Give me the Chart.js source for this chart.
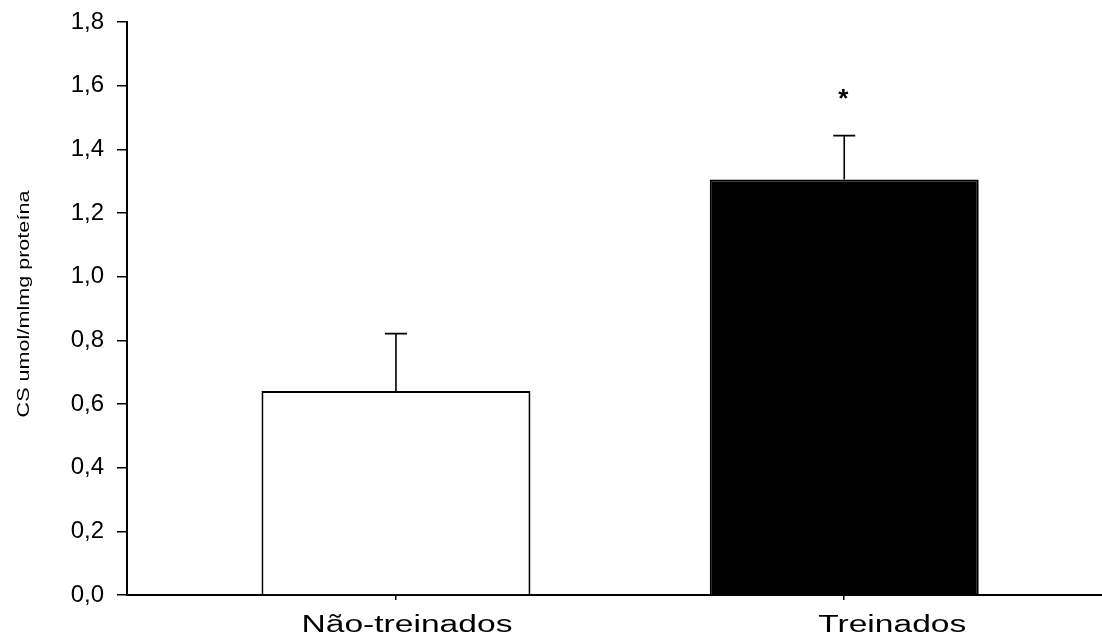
<!DOCTYPE html>
<html>
<head>
<meta charset="utf-8">
<script src="https://cdn.jsdelivr.net/npm/chart.js@4"></script>
<style>
  body { margin: 0; background: #fff; }
</style>
</head>
<body>
<canvas id="chart" width="1102" height="637"></canvas>
<script>
const categories = ["Não-treinados", "Treinados"];
const means = [0.641, 1.305];
const errors = [0.18, 0.138];
const marks = ["", "*"];
const markLevels = [null, 1.58];
const yTitle = "CS umol/mlmg proteína";

const FONT = "'Liberation Sans', Arial, sans-serif";

const extras = {
	id: "extras",
	afterDatasetsDraw(chart) {
		const { ctx, scales: { x, y } } = chart;
		ctx.save();
		ctx.strokeStyle = "#000";
		ctx.fillStyle = "#000";
		ctx.lineWidth = 1.6;
		// error bars (upper only)
		means.forEach((m, i) => {
			const px = x.getPixelForValue(i + 1);
			const top = y.getPixelForValue(m);
			const end = y.getPixelForValue(m + errors[i]);
			ctx.beginPath();
			ctx.moveTo(px, top);
			ctx.lineTo(px, end);
			ctx.moveTo(px - 11, end);
			ctx.lineTo(px + 11, end);
			ctx.stroke();
		});
		// significance mark
		ctx.font = "bold 26px " + FONT;
		ctx.textAlign = "center";
		ctx.textBaseline = "alphabetic";
		marks.forEach((t, i) => {
			if (!t) return;
			const px = x.getPixelForValue(i + 1);
			ctx.fillText(t, px - 1, y.getPixelForValue(markLevels[i]) + 15);
		});
		// category labels (wide, like the original)
		const shift = [11, 48];
		ctx.font = "23px " + FONT;
		categories.forEach((c, i) => {
			const px = x.getPixelForValue(i + 1) + shift[i];
			ctx.save();
			ctx.translate(px, 632);
			ctx.scale(1.46, 1);
			ctx.fillText(c, 0, 0);
			ctx.restore();
		});
		// y title
		ctx.save();
		ctx.translate(24, 304);
		ctx.rotate(-Math.PI / 2);
		ctx.scale(1.27, 1);
		ctx.font = "17px " + FONT;
		ctx.textBaseline = "middle";
		ctx.fillText(yTitle, 0, 0);
		ctx.restore();
		ctx.restore();
	},
};

new Chart(document.getElementById("chart"), {
	type: "bar",
	plugins: [extras],
	data: {
		datasets: [
			{
				data: means.map((v, i) => ({ x: i + 1, y: v })),
				backgroundColor: ["#fff", "#000"],
				borderColor: "#000",
				borderWidth: 2,
				barPercentage: 0.6,
				categoryPercentage: 1,
			},
		],
	},
	options: {
		responsive: false,
		animation: false,
		devicePixelRatio: 1,
		layout: { padding: { top: 22, right: 0, bottom: 0, left: 0 } },
		plugins: { legend: { display: false }, tooltip: { enabled: false } },
		scales: {
			x: {
				type: "linear",
				min: 0.4,
				max: 2.575,
				offset: false,
				afterBuildTicks: s => { s.ticks = categories.map((c, i) => ({ value: i + 1 })); },
				afterFit: s => { s.height = 42; s.paddingLeft = 0; s.paddingRight = 0; },
				ticks: { display: false },
				grid: { offset: false, drawOnChartArea: false, drawTicks: true, tickLength: 5, color: "#000", lineWidth: 1.5 },
				border: { display: true, color: "#000", width: 2 },
			},
			y: {
				min: 0,
				max: 1.8,
				afterFit: s => { s.width = 127; s.paddingTop = 0; s.paddingBottom = 0; },
				ticks: {
					stepSize: 0.2,
					padding: 13,
					color: "#000",
					font: { family: FONT, size: 24 },
					callback: v => v.toFixed(1).replace(".", ","),
				},
				grid: { drawOnChartArea: false, drawTicks: true, tickLength: 10, color: "#000", lineWidth: 1.5 },
				border: { display: true, color: "#000", width: 2 },
			},
		},
	},
});
</script>
</body>
</html>
